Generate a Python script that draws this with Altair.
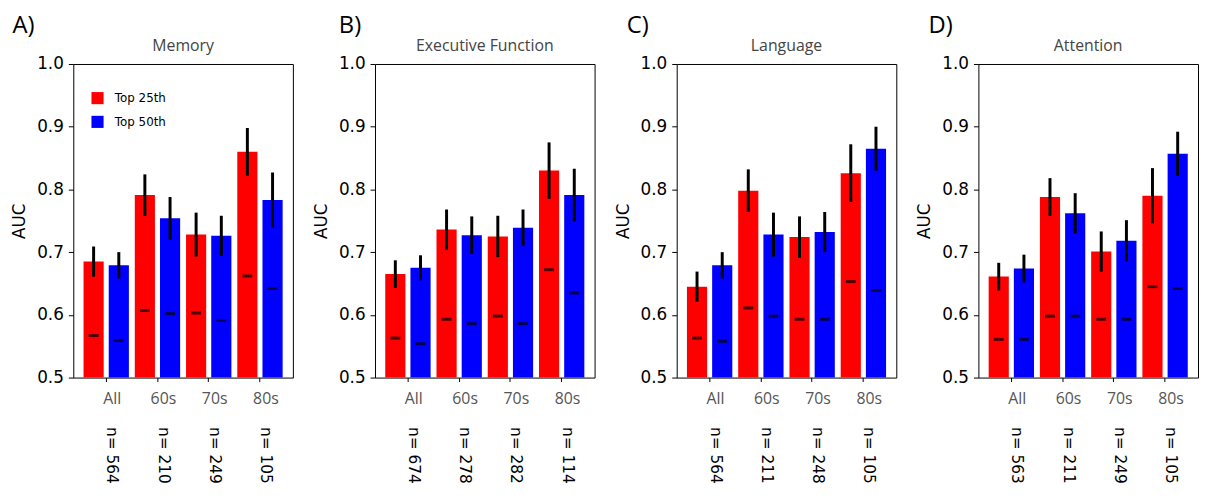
import altair as alt
import pandas as pd

groups = ["All", "60s", "70s", "80s"]
series = ["Top 25th", "Top 50th"]
domains = ["Memory", "Executive Function", "Language", "Attention"]
letters = ["A)", "B)", "C)", "D)"]
letter_dx = [2, 27, 13, 13]

# Memory
mem_25 = [0.685, 0.791, 0.728, 0.860]
mem_50 = [0.679, 0.754, 0.726, 0.783]
mem_err25 = [0.024, 0.033, 0.035, 0.038]
mem_err50 = [0.021, 0.034, 0.032, 0.044]
mem_ch25 = [0.567, 0.607, 0.603, 0.662]
mem_ch50 = [0.559, 0.602, 0.591, 0.642]
mem_n = ["n= 564", "n= 210", "n= 249", "n= 105"]

# Executive Function
ef_25 = [0.665, 0.736, 0.725, 0.830]
ef_50 = [0.675, 0.727, 0.739, 0.791]
ef_err25 = [0.022, 0.032, 0.033, 0.045]
ef_err50 = [0.020, 0.030, 0.029, 0.042]
ef_ch25 = [0.563, 0.593, 0.598, 0.672]
ef_ch50 = [0.554, 0.586, 0.586, 0.635]
ef_n = ["n= 674", "n= 278", "n= 282", "n= 114"]

# Language
lang_25 = [0.645, 0.798, 0.724, 0.826]
lang_50 = [0.679, 0.728, 0.732, 0.865]
lang_err25 = [0.024, 0.034, 0.033, 0.046]
lang_err50 = [0.021, 0.035, 0.032, 0.035]
lang_ch25 = [0.563, 0.611, 0.593, 0.653]
lang_ch50 = [0.558, 0.598, 0.593, 0.639]
lang_n = ["n= 564", "n= 211", "n= 248", "n= 105"]

# Attention
att_25 = [0.661, 0.788, 0.701, 0.790]
att_50 = [0.674, 0.762, 0.718, 0.857]
att_err25 = [0.022, 0.030, 0.032, 0.044]
att_err50 = [0.022, 0.032, 0.033, 0.035]
att_ch25 = [0.561, 0.598, 0.593, 0.645]
att_ch50 = [0.561, 0.598, 0.593, 0.642]
att_n = ["n= 563", "n= 211", "n= 249", "n= 105"]

panels = [
    (mem_25, mem_50, mem_err25, mem_err50, mem_ch25, mem_ch50, mem_n),
    (ef_25, ef_50, ef_err25, ef_err50, ef_ch25, ef_ch50, ef_n),
    (lang_25, lang_50, lang_err25, lang_err50, lang_ch25, lang_ch50, lang_n),
    (att_25, att_50, att_err25, att_err50, att_ch25, att_ch50, att_n),
]

W, H = 222, 317


def make_panel(idx):
    v25, v50, e25, e50, c25, c50, nl = panels[idx]
    rows = []
    for g, a, b, ea, eb, ca, cb in zip(groups, v25, v50, e25, e50, c25, c50):
        rows.append(dict(group=g, series=series[0], auc=a, lo=a - ea, hi=a + ea, chance=ca))
        rows.append(dict(group=g, series=series[1], auc=b, lo=b - eb, hi=b + eb, chance=cb))
    df = pd.DataFrame(rows)
    dn = pd.DataFrame(dict(group=groups, n=nl))

    xscale = alt.Scale(paddingInner=0.115, paddingOuter=0.2)
    xenc = alt.X(
        "group:N", sort=groups, scale=xscale,
        axis=alt.Axis(title=None, labelAngle=0, labelFont="Open Sans", labelFontSize=16,
                      labelColor="#555555", labelOffset=6, tickSize=4, tickColor="black",
                      labelPadding=9, domain=False),
    )
    xoff = alt.XOffset("series:N", sort=series, scale=alt.Scale(paddingInner=0.2))
    yscale = alt.Scale(domain=[0.5, 1.0])
    yaxis = alt.Axis(title="AUC", values=[0.5, 0.6, 0.7, 0.8, 0.9, 1.0], format=".1f",
                     labelFont="DejaVu Sans", labelFontSize=17, labelColor="black",
                     titleFont="DejaVu Sans", titleFontSize=17, titleFontWeight="normal",
                     titleColor="black", titlePadding=8, labelPadding=5, tickSize=5,
                     tickColor="black", grid=False, domain=False)

    if idx == 0:
        legend = alt.Legend(title=None, orient="none", legendX=18, legendY=28,
                            symbolType="square", symbolSize=150, symbolStrokeWidth=0,
                            labelFont="DejaVu Sans", labelFontSize=12, labelColor="black",
                            rowPadding=11, labelOffset=11)
    else:
        legend = None

    base = alt.Chart(df)
    bars = base.mark_bar().encode(
        x=xenc, xOffset=xoff,
        y=alt.Y("auc:Q", scale=yscale, axis=yaxis),
        y2=alt.datum(0.5),
        color=alt.Color("series:N", scale=alt.Scale(domain=series, range=["#ff0000", "#0000ff"]),
                        legend=legend),
    )
    errs = base.mark_rule(color="black", strokeWidth=3).encode(
        x=xenc, xOffset=xoff, y="lo:Q", y2="hi:Q")
    chance = base.mark_tick(color="black", thickness=3, size=10).encode(
        x=xenc, xOffset=xoff, y="chance:Q")
    ntext = alt.Chart(dn).mark_text(angle=90, align="left", baseline="middle",
                                     font="DejaVu Sans", fontSize=15.5, color="black").encode(
        x=alt.X("group:N", sort=groups), xOffset=alt.value(29), y=alt.value(H + 50), text="n:N")

    layer = alt.layer(bars, errs, chance, ntext).properties(
        width=W, height=H,
        title=alt.TitleParams(domains[idx], anchor="middle", frame="group", font="Open Sans",
                              fontSize=16, fontWeight="normal", color="#444444", offset=1),
    )
    wrap = alt.hconcat(layer).properties(
        title=alt.TitleParams(letters[idx], anchor="start", frame="bounds", font="Open Sans",
                              fontSize=24, fontWeight="normal", color="black", dx=letter_dx[idx],
                              offset=0),
    ).resolve_legend(color="independent")
    return wrap


chart = alt.hconcat(*[make_panel(i) for i in range(4)], spacing=18).resolve_legend(
    color="independent"
).configure(
    padding={"left": 2, "top": 3, "right": 0, "bottom": 0}
).configure_view(stroke="black", strokeWidth=1)

chart.save("out.html", embed_options={"renderer": "svg", "actions": False})
